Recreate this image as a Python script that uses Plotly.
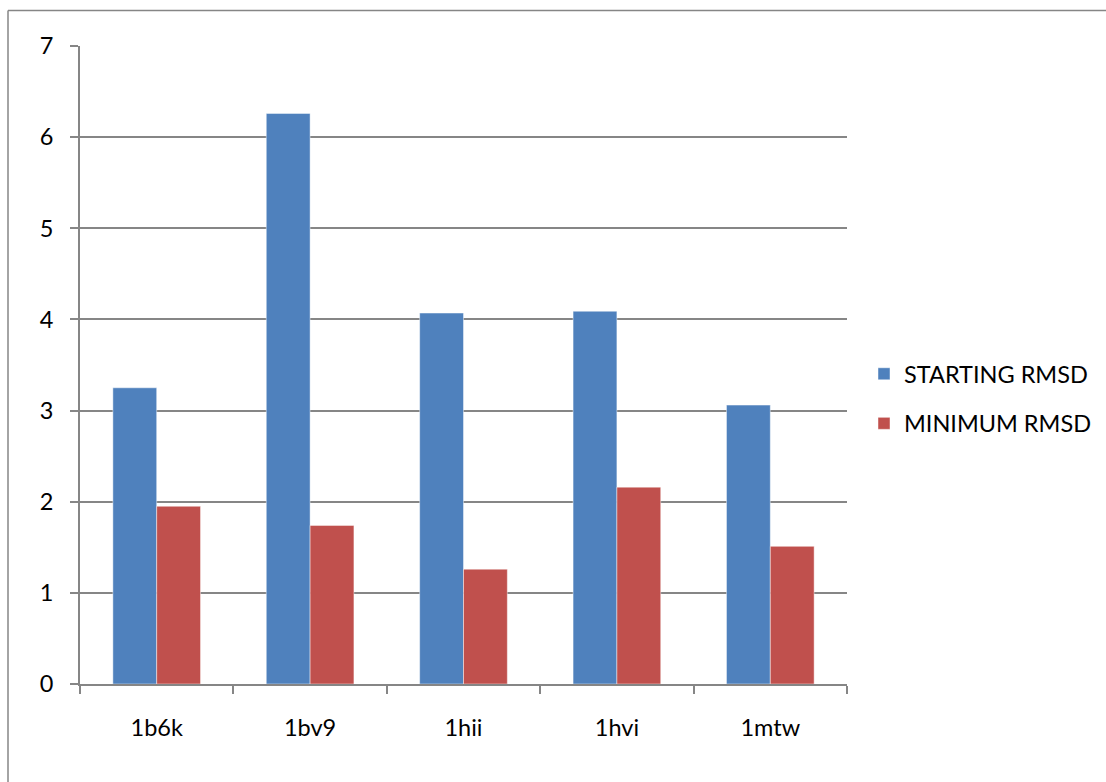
import plotly.graph_objects as go

# RMSD values per structure
structures = ["1b6k", "1bv9", "1hii", "1hvi", "1mtw"]
starting_rmsd = [3.25, 6.26, 4.07, 4.09, 3.06]
minimum_rmsd = [1.95, 1.74, 1.26, 2.16, 1.51]
y_ticks = [0, 1, 2, 3, 4, 5, 6, 7]

W, H = 1106, 782
L, R, T, B = 80, 259, 46, 98
plot_w = W - L - R
plot_h = H - T - B

FONT = "Lato"
FS = 23.5
GRID = "#868686"

fig = go.Figure()
fig.add_trace(go.Bar(
    x=structures, y=starting_rmsd, name="STARTING RMSD",
    legendgroup="a",
    marker=dict(color="#4F81BD", line=dict(color="rgba(255,255,255,0.45)", width=1)),
))
fig.add_trace(go.Bar(
    x=structures, y=minimum_rmsd, name="MINIMUM RMSD",
    legendgroup="b",
    marker=dict(color="#C0504D", line=dict(color="rgba(255,255,255,0.45)", width=1)),
))

# chart-area frame: top and left edges
def px_x(px):
    return (px - L) / plot_w

def px_y(py):
    return (H - B - py) / plot_h

frame = dict(color=GRID, width=1.5)
fig.add_shape(type="line", xref="paper", yref="paper",
              x0=px_x(8), x1=px_x(W + 5), y0=px_y(10.5), y1=px_y(10.5), line=frame)
fig.add_shape(type="line", xref="paper", yref="paper",
              x0=px_x(8), x1=px_x(8), y0=px_y(10.5), y1=px_y(H + 5), line=frame)

fig.update_layout(
    width=W, height=H,
    margin=dict(l=L, r=R, t=T, b=B, autoexpand=False),
    paper_bgcolor="white", plot_bgcolor="white",
    font=dict(family=FONT, size=FS, color="black"),
    barmode="group", bargap=0.4286, bargroupgap=0,
    showlegend=True,
    legend=dict(
        x=px_x(864), xanchor="left", y=px_y(352), yanchor="top",
        font=dict(family=FONT, size=FS, color="black"),
        tracegroupgap=16, itemwidth=30, bgcolor="rgba(0,0,0,0)",
    ),
    xaxis=dict(
        type="category", tickson="boundaries", ticks="outside", ticklen=8,
        tickcolor=GRID, tickwidth=1.8, showline=True, linecolor=GRID, linewidth=1.8,
        showgrid=False, ticklabelstandoff=22,
        tickfont=dict(family=FONT, size=FS, color="black"),
    ),
    yaxis=dict(
        range=[0, 7], tickvals=y_ticks, ticks="outside", ticklen=8,
        tickcolor=GRID, tickwidth=1.8, showline=True, linecolor=GRID, linewidth=1.8,
        showgrid=True, gridcolor=GRID, gridwidth=1.6, zeroline=False,
        ticklabelstandoff=12,
        tickfont=dict(family=FONT, size=FS, color="black"),
    ),
)

fig.write_html("out.html")
